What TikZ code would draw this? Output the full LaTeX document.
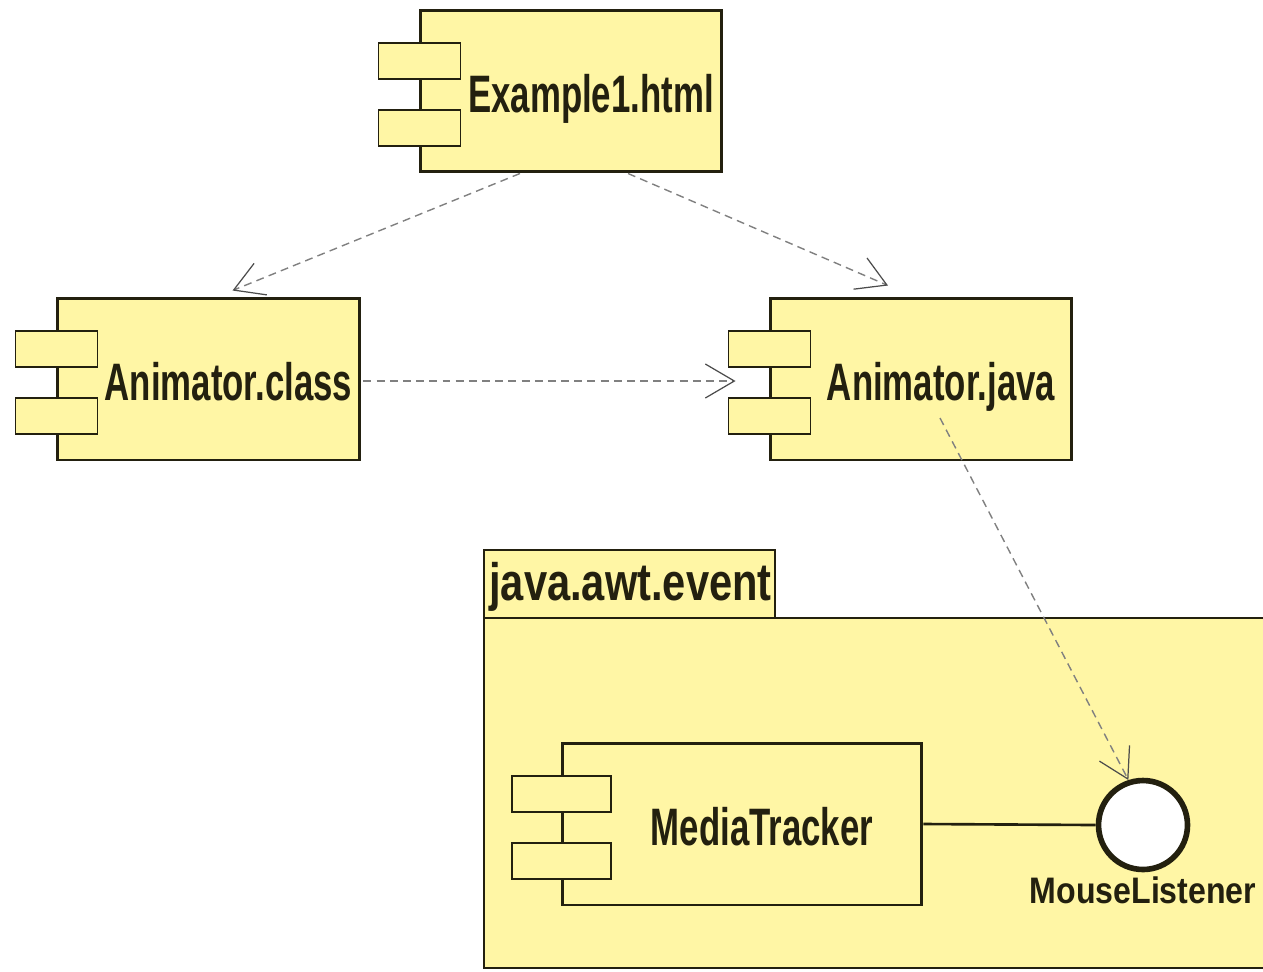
\documentclass[tikz,border=0pt]{standalone}
\usepackage{fontspec}
\setmainfont{Liberation Sans}[FakeStretch=0.66]
\newfontfamily\tabfont{Liberation Sans}[FakeStretch=0.79]
\newfontfamily\ifacefont{Liberation Sans}[FakeStretch=0.87]
\usetikzlibrary{arrows.meta}
\definecolor{umlyellow}{RGB}{255,246,165}
\definecolor{umlline}{RGB}{35,32,15}
\tikzset{
  compbody/.style={draw=umlline, line width=1.7pt, fill=umlyellow, minimum height=3.24cm, inner sep=0pt},
  portbox/.style={draw=umlline, line width=0.7pt, fill=umlyellow, minimum height=0.72cm, inner sep=0pt},
  complabel/.style={font=\fontsize{30}{34}\selectfont\bfseries, text=umlline, inner sep=0pt},
  depend/.style={draw=black!50, line width=0.8pt, dash pattern=on 4.5pt off 3pt,
    -{Straight Barb[length=0.58cm, width=0.68cm, line width=0.7pt, color=black!70]}},
}
% component: name, centre, width, port width, text
\newcommand\umlcomp[5]{%
  \node[compbody, minimum width=#3] (#1) at (#2) {};
  \node[portbox, minimum width=#4] (#1-p1) at ([shift={(1,-30)}]#1.west) {};
  \node[portbox, minimum width=#4] (#1-p2) at ([shift={(1,37)}]#1.west) {};
  \node[complabel, anchor=base] (#1-t) at ([shift={(20,21)}]#1.center) {#5};
}
\begin{document}
\begin{tikzpicture}[x=0.02cm, y=-0.02cm, line join=miter, line cap=butt]
  \useasboundingbox (0,0) rectangle (1263,971);
  % package java.awt.event
  \draw[draw=umlline, line width=0.7pt, fill=umlyellow] (484,550) rectangle (775,618);
  \node[complabel, font=\fontsize{30}{34}\tabfont\bfseries, anchor=base west] (pkg) at (489,600) {java.awt.event};
  \fill[umlyellow] (484,618) rectangle (1263,968);
  \draw[draw=umlline, line width=1.4pt] (1263,618) -- (484,618) -- (484,968) -- (1263,968);
  % components
  \umlcomp{ex}{571,91}{6.04cm}{1.64cm}{Example1.html}
  \umlcomp{ac}{208.5,379}{6.06cm}{1.64cm}{Animator.class}
  \umlcomp{aj}{921,379}{6.04cm}{1.64cm}{Animator.java}
  \umlcomp{mt}{742,824}{7.2cm}{1.98cm}{MediaTracker}
  % interface
  \node[circle, draw=umlline, line width=3.2pt, fill=white, minimum size=1.78cm, inner sep=0pt] (ml) at (1143,825) {};
  \node[complabel, font=\fontsize{21}{25}\ifacefont\bfseries, anchor=base] (ml-t) at ([shift={(0,78)}]ml.center) {MouseListener};
  \draw[draw=umlline, line width=1.5pt] (mt.east) -- (ml.west);
  % dependencies
  \draw[depend] ([shift={(-51,0)}]ex.south) -- ([shift={(24,-6)}]ac.north);
  \draw[depend] ([shift={(57,0)}]ex.south) -- ([shift={(-33,-11)}]aj.north);
  \draw[depend] ([shift={(2,2)}]ac.east) -- ([shift={(-33,2)}]aj.west);
  \draw[depend] ([shift={(19,39)}]aj.center) -- (ml.108);
\end{tikzpicture}
\end{document}
